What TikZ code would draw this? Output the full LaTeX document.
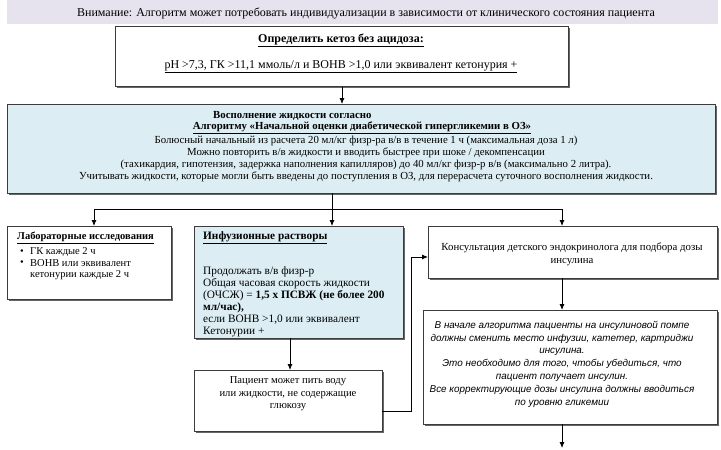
\documentclass[tikz,border=0pt]{standalone}
\usepackage{fontspec}
\setmainfont{Liberation Serif}
\newfontfamily\arialfont{Liberation Sans}
\usetikzlibrary{arrows.meta,shadows}
\definecolor{banner}{RGB}{230,226,238}
\definecolor{lblue}{RGB}{220,238,243}
\definecolor{edge}{RGB}{60,60,60}
\tikzset{
  box/.style={draw=edge,line width=1pt,fill=white,drop shadow={shadow xshift=1pt,shadow yshift=-1pt,fill=black!60,opacity=1}},
  bluebox/.style={box,fill=lblue},
  txt/.style={inner sep=0pt,font=\fontsize{10.8}{12}\selectfont},
  conn/.style={line width=0.8pt,draw=black},
  arr/.style={conn,-{Latex[length=6pt,width=5pt]}},
}
\begin{document}
\begin{tikzpicture}[x=1pt,y=-1pt]
\useasboundingbox (0,0) rectangle (721,450);
% banner
\fill[banner] (7,0) rectangle (718,24);
\node[txt,font=\fontsize{12}{14}\selectfont] (bantxt) at (366,13) {Внимание: Алгоритм может потребовать индивидуализации в зависимости от клинического состояния пациента};
% box 1
\node[box,minimum width=453pt,minimum height=60pt,anchor=north west] (k1) at (115,26) {};
\node[txt,font=\fontsize{12}{14}\selectfont\bfseries] (k1a) at (341,40) {\underline{Определить кетоз без ацидоза:}};
\node[txt,font=\fontsize{12}{14}\selectfont] (k1b) at (341,67) {\underline{pH >7,3, ГК >11,1 ммоль/л и ВОНВ >1,0 или эквивалент кетонурия +}};
% fluid box
\node[bluebox,minimum width=708pt,minimum height=89pt,anchor=north west] (fl) at (7,104) {};
\node[txt,font=\fontsize{10.8}{12}\selectfont\bfseries,anchor=west] (fla) at (213,116) {Восполнение жидкости согласно};
\node[txt,font=\fontsize{10.8}{12}\selectfont\bfseries] (flb) at (362,128) {\underline{Алгоритму «Начальной оценки диабетической гипергликемии в ОЗ»}};
\node[txt] (flc) at (366,141) {Болюсный начальный из расчета 20 мл/кг физр-ра в/в в течение 1 ч (максимальная доза 1 л)};
\node[txt] (fld) at (366,153) {Можно повторить в/в жидкости и вводить быстрее при шоке / декомпенсации};
\node[txt] (fle) at (366,165) {(тахикардия, гипотензия, задержка наполнения капилляров) до 40 мл/кг физр-р в/в (максимально 2 литра).};
\node[txt] (flf) at (366,177) {Учитывать жидкости, которые могли быть введены до поступления в ОЗ, для перерасчета суточного восполнения жидкости.};
% lab box
\node[box,minimum width=164pt,minimum height=73pt,anchor=north west] (lab) at (7,226) {};
\node[txt,font=\fontsize{10.5}{12}\selectfont\bfseries,anchor=west] (laba) at (17,238) {\underline{Лабораторные исследования}};
\node[txt,font=\fontsize{10.5}{12}\selectfont,anchor=west] (labb1) at (20,252) {\textbullet};
\node[txt,font=\fontsize{10.5}{12}\selectfont,anchor=west] (labb2) at (20,263) {\textbullet};
\node[txt,font=\fontsize{10.5}{12}\selectfont,anchor=west] (labc) at (30,252) {ГК каждые 2 ч};
\node[txt,font=\fontsize{10.5}{12}\selectfont,anchor=west] (labd) at (30,263) {ВОНВ или эквивалент};
\node[txt,font=\fontsize{10.5}{12}\selectfont,anchor=west] (labe) at (30,275) {кетонурии каждые 2 ч};
% infusion box
\node[bluebox,minimum width=209pt,minimum height=112pt,anchor=north west] (inf) at (194,226) {};
\node[txt,font=\fontsize{11.3}{12}\selectfont\bfseries,anchor=west] (infa) at (203,238) {\underline{Инфузионные растворы}};
\node[txt,font=\fontsize{11.3}{12}\selectfont,anchor=west] (infb) at (203,272) {Продолжать в/в физр-р};
\node[txt,font=\fontsize{11.3}{12}\selectfont,anchor=west] (infc) at (203,284) {Общая часовая скорость жидкости};
\node[txt,font=\fontsize{11.3}{12}\selectfont,anchor=west] (infd) at (203,296) {(ОЧСЖ) = \textbf{1,5 х ПСВЖ (не более 200}};
\node[txt,font=\fontsize{11.3}{12}\selectfont,anchor=west] (infe) at (203,308) {\textbf{мл/час),}};
\node[txt,font=\fontsize{11.3}{12}\selectfont,anchor=west] (inff) at (203,320) {если ВОНВ >1,0 или эквивалент};
\node[txt,font=\fontsize{11.3}{12}\selectfont,anchor=west] (infg) at (203,332) {Кетонурии +};
% patient box
\node[box,minimum width=188pt,minimum height=61pt,anchor=north west] (pat) at (194,370) {};
\node[txt,align=center,font=\fontsize{10.6}{12.5}\selectfont] (patt) at (288,394) {Пациент может пить воду\\или жидкости, не содержащие\\глюкозу};
% consult box
\node[box,minimum width=289pt,minimum height=52pt,anchor=north west] (cons) at (428,226) {};
\node[txt,align=center,font=\fontsize{10.8}{13}\selectfont] (const) at (572,254) {Консультация детского эндокринолога для подбора дозы\\инсулина};
% italic box
\node[box,minimum width=294pt,minimum height=114pt,anchor=north west] (ital) at (423,310) {};
\node[txt,align=center,font=\arialfont\itshape\fontsize{9.9}{12.8}\selectfont] (italt) at (562,364) {В начале алгоритма пациенты на инсулиновой помпе\\должны сменить место инфузии, катетер, картриджи\\инсулина.\\Это необходимо для того, чтобы убедиться, что\\пациент получает инсулин.\\Все корректирующие дозы инсулина должны вводиться\\по уровню гликемии};
% connectors
\draw[arr] (k1.south) -- (k1.south |- fl.north);
\coordinate (j) at (332,209);
\coordinate (jl) at (94,209);
\coordinate (jr) at (562,209);
\draw[conn] (332,193) -- (j);
\draw[arr] (j) -- (j |- inf.north);
\draw[arr] (j) -- (jl) -- (jl |- lab.north);
\draw[arr] (j) -- (jr) -- (jr |- cons.north);
\coordinate (ia) at (290,338);
\draw[arr] (ia) -- (ia |- pat.north);
\coordinate (pr) at (382,411);
\coordinate (bend) at (411,411);
\coordinate (bend2) at (411,257);
\draw[arr] (pr) -- (bend) -- (bend2) -- (bend2 -| cons.west);
\coordinate (cb) at (562,278);
\draw[arr] (cb) -- (cb |- ital.north);
\coordinate (ib) at (562,424);
\coordinate (end) at (562,448);
\draw[arr] (ib) -- (end);
\end{tikzpicture}
\end{document}
